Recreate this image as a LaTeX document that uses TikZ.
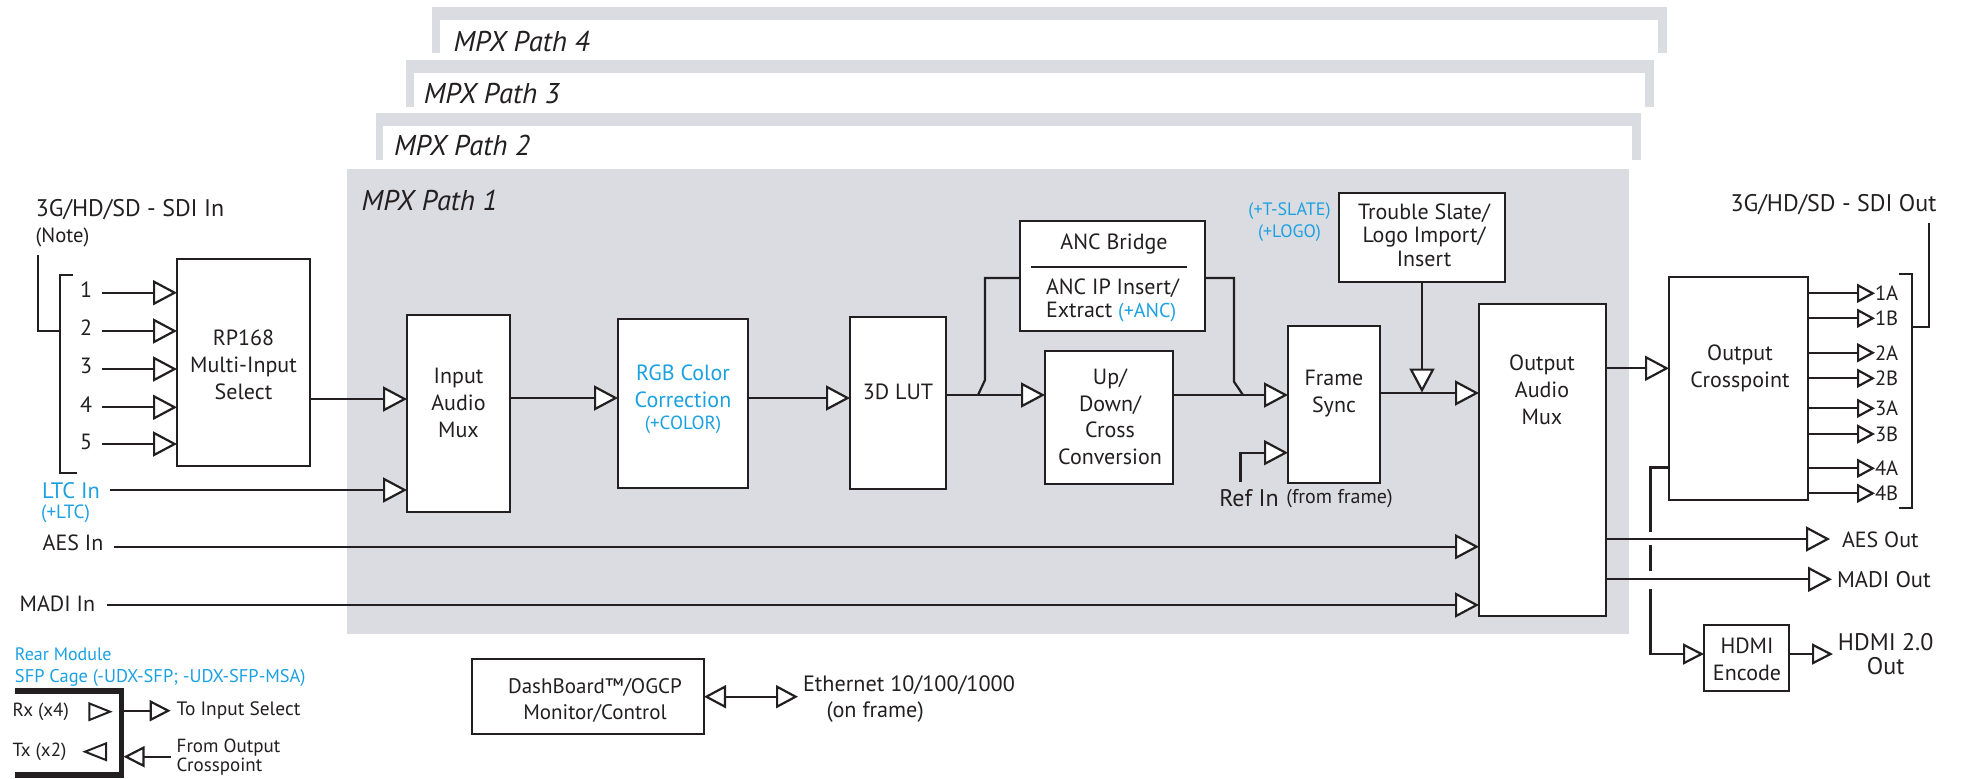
\documentclass[tikz,border=0pt]{standalone}
\usepackage{fontspec}
\setmainfont{PT Sans}
\usetikzlibrary{arrows.meta,calc}
\definecolor{panel}{RGB}{219,220,225}
\definecolor{cyanT}{RGB}{27,161,226}
\definecolor{ink}{RGB}{35,31,32}
\newcommand\mainsz{\fontsize{11}{13.4}\selectfont}
\newcommand\smallsz{\fontsize{9}{11}\selectfont}
\newcommand\mpxsz{\fontsize{14.3}{16}\selectfont\itshape}
\newcommand\blk[5]{\node[blk, minimum width={(#4-#2)*0.5pt}, minimum height={(#5-#3)*0.5pt}] (#1) at ({(#2+#4)/2},{(#3+#5)/2}) {};}
\begin{document}
\begin{tikzpicture}[x=0.5pt,y=-0.5pt,
  ln/.style={draw=ink, line width=1.1pt},
  blk/.style={draw=ink, fill=white, line width=1.2pt, inner sep=0pt, outer sep=0pt},
  txt/.style={inner sep=0pt, outer sep=0pt, font=\mainsz, text=ink, align=center},
  stxt/.style={txt, font=\smallsz},
  blue/.style={text=cyanT},
  arr/.style={ln, -{Triangle[fill=white, length=12pt, width=12.5pt]}},
  marr/.style={ln, -{Triangle[fill=white, length=10.5pt, width=10.5pt]}},
  sarr/.style={ln, -{Triangle[fill=white, length=9pt, width=9.5pt]}},
  brk/.style={draw=ink, line width=0.9pt}]
\useasboundingbox (0,0) rectangle (1961,778);

% ---------- MPX path frames ----------
\fill[panel] (432,7) rectangle (1667,53);
\fill[white] (440,19.5) rectangle (1658,53.5);
\fill[panel] (406,60) rectangle (1654,107);
\fill[white] (414,73) rectangle (1645,107.5);
\fill[panel] (376,113) rectangle (1641,160);
\fill[white] (383,126) rectangle (1632,160.5);
\fill[panel] (347,169) rectangle (1629,634);
\node[txt, font=\mpxsz] (p4) at (521.5,41.7) {MPX Path 4};
\node[txt, font=\mpxsz] (p3) at (491.8,93.3) {MPX Path 3};
\node[txt, font=\mpxsz] (p2) at (462,145.7) {MPX Path 2};
\node[txt, font=\mpxsz] (p1) at (429.6,200) {MPX Path 1};

% ---------- boxes ----------
\blk{rp}{177}{259}{310}{466}
\node[txt] (rpl) at (243.5,364.5) {RP168\\Multi-Input\\Select};
\blk{iam}{407}{315}{510}{512}
\node[txt] (iaml) at (458.5,403) {Input\\Audio\\Mux};
\blk{rgb}{618}{319}{748}{488}
\node[txt, blue] (rgbl) at (683,386.3) {RGB Color\\Correction};
\node[stxt, blue, font=\fontsize{9.5}{11}\selectfont] (rgbo) at (683,425) {(+COLOR)};
\blk{lut}{850}{317}{946}{489}
\node[txt] (lutl) at (898,391.7) {3D LUT};
\blk{anc}{1020}{221}{1205}{331}
\node[txt] (ancb) at (1114,244) {ANC Bridge};
\draw[ink, line width=0.8pt] (1031,267) -- (1187,267);
\node[txt, align=left, anchor=west, font=\fontsize{11}{11.2}\selectfont] (anci) at (1046,300.5) {ANC IP Insert/\\Extract {\color{cyanT}\fontsize{10}{11}\selectfont(+ANC)}};
\blk{udc}{1045}{351}{1173}{484}
\node[txt] (udcl) at (1110,416.7) {Up/\\Down/\\Cross\\Conversion};
\blk{fs}{1288}{326}{1380}{483}
\node[txt] (fsl) at (1334,393.3) {Frame\\Sync};
\blk{ts}{1339}{193}{1505}{282}
\node[txt, font=\fontsize{11}{11.7}\selectfont] (tsl) at (1424,235) {Trouble Slate/\\Logo Import/\\Insert};
\node[stxt, blue, font=\fontsize{9}{11}\selectfont] (tsopt) at (1289.5,221.7) {(+T-SLATE)\\(+LOGO)};
\blk{oam}{1479}{304}{1606}{616}
\node[txt] (oaml) at (1542,390) {Output\\Audio\\Mux};
\blk{oc}{1669}{277}{1808}{500}
\node[txt] (ocl) at (1740,368.3) {Output\\Crosspoint};
\blk{hdmi}{1704}{625}{1789}{691}
\node[txt] (hdmil) at (1747,659.3) {HDMI\\Encode};
\blk{dash}{472}{659}{704}{734}
\node[txt, font=\fontsize{10.5}{12.8}\selectfont] (dashl) at (595,700.5) {DashBoard™/OGCP\\Monitor/Control};

% ---------- SDI inputs ----------
\node[txt, font=\fontsize{12}{13}\selectfont] (sdiin) at (130,210) {3G/HD/SD - SDI In};
\node[stxt, font=\fontsize{10.3}{11}\selectfont] (note) at (62.5,237) {(Note)};
\draw[brk] (38,255) -- (38,331) -- (60,331);
\draw[brk] (73,275) -- (60,275) -- (60,473) -- (77,473);
\foreach \k/\ty/\ly in {1/290/292.7, 2/328/331, 3/366/369, 4/404.3/407.3, 5/442/444} {
  \node[txt] (n\k) at (86,\ty) {\k};
  \coordinate (s\k) at (102,\ly);
  \draw[arr] (s\k) -- (s\k -| rp.west);
}

% ---------- LTC / AES / MADI ----------
\node[txt, blue, font=\fontsize{11.2}{13}\selectfont] (ltc) at (71,491) {LTC In};
\node[stxt, blue, font=\fontsize{9.6}{11}\selectfont] (ltcp) at (65.5,513.5) {(+LTC)};
\coordinate (ltcs) at (110,490);
\draw[arr] (ltcs) -- (ltcs -| iam.west);
\node[txt] (aesin) at (73,542.3) {AES In};
\coordinate (aess) at (114,546.7);
\draw[arr] (aess) -- (aess -| oam.west);
\node[txt] (madiin) at (57.4,604) {MADI In};
\coordinate (madis) at (107,605);
\draw[arr] (madis) -- (madis -| oam.west);

% ---------- main chain ----------
\draw[arr] (rp.east |- 0,399) -- (iam.west |- 0,399);
\draw[arr] (iam.east |- 0,398) -- (rgb.west |- 0,398);
\draw[arr] (rgb.east |- 0,398) -- (lut.west |- 0,398);
\draw[arr] (lut.east |- 0,395) -- (udc.west |- 0,395);
\coordinate (j1) at (978,395);
\draw[ln] (j1) -- (985,380) -- (985,278) -- (anc.west |- 0,278);
\draw[ln] (anc.east |- 0,278) -- (1234,278) -- (1234,381.7) -- (1243,395);
\draw[arr] (udc.east |- 0,395) -- (fs.west |- 0,395);
\node[txt, font=\fontsize{12}{13}\selectfont] (refin) at (1249,498.3) {Ref In};
\node[stxt, font=\fontsize{10}{11}\selectfont] (fromfr) at (1339.5,498.3) {(from frame)};
\coordinate (refs) at (1240.4,481.7);
\draw[arr] (refs) |- (fs.west |- 0,452.7);
\draw[arr] (fs.east |- 0,393) -- (oam.west |- 0,393);
\draw[arr] (ts.south) -- (ts.south |- 0,392.5);
\draw[arr] (oam.east |- 0,368.3) -- (oc.west |- 0,368.3);

% ---------- SDI outputs ----------
\node[txt, font=\fontsize{12}{13}\selectfont] (sdiout) at (1833.5,205) {3G/HD/SD - SDI Out};
\foreach \lab/\y in {1A/293.3, 1B/318.3, 2A/352.7, 2B/378.3, 3A/408.3, 3B/434, 4A/468.3, 4B/493.3} {
  \node[txt, anchor=west, font=\fontsize{10.3}{12}\selectfont] (o\lab) at (1875,\y) {\lab};
  \draw[sarr] (oc.east |- o\lab.west) -- (o\lab.west);
}
\draw[brk] (1899,274) -- (1912,274) -- (1912,508) -- (1899,508);
\draw[brk] (1912,327) -- (1929,327) -- (1929,223);

% ---------- audio outputs ----------
\node[txt, anchor=west, font=\fontsize{11}{12}\selectfont] (aesout) at (1842,540) {AES Out};
\draw[arr] (oam.east |- 0,539) -- ([xshift=-6pt]aesout.west |- 0,539);
\node[txt, anchor=west, font=\fontsize{11.3}{12}\selectfont] (madiout) at (1837,579.3) {MADI Out};
\draw[arr] (oam.east |- 0,579.3) -- ([xshift=-2.5pt]madiout.west);

% ---------- HDMI ----------
\coordinate (dv) at (1650.5,467.5);
\draw[ln] (oc.west |- dv) -- (dv) -- (1650.5,531.7);
\draw[ln] (1650.5,545) -- (1650.5,571);
\draw[marr] (1650.5,589.3) |- (hdmi.west |- 0,654);
\node[txt, font=\fontsize{12}{11.9}\selectfont] (hdout) at (1885.7,654.3) {HDMI 2.0\\Out};
\draw[marr] (hdmi.east |- 0,654) -- (1833,654);

% ---------- rear module ----------
\node[stxt, blue, anchor=west, font=\fontsize{9}{11}\selectfont] (rear1) at (15,654.3) {Rear Module};
\node[stxt, blue, anchor=west, font=\fontsize{9.2}{11}\selectfont] (rear2) at (15,678.3) {SFP Cage (-UDX-SFP; -UDX-SFP-MSA)};
\draw[ink, line width=2.6pt] (15,691) -- (121.7,691) -- (121.7,775) -- (15,775);
\node[stxt, anchor=west, font=\fontsize{9.5}{11}\selectfont] (rx) at (12.7,711.7) {Rx (x4)};
\node[stxt, anchor=west, font=\fontsize{9.5}{11}\selectfont] (tx) at (12.7,751.7) {Tx (x2)};
\draw[ink, line width=1pt, fill=white, line join=miter] (89.3,703.4) -- (110,711.7) -- (89.3,720) -- cycle;
\draw[ink, line width=1pt, fill=white, line join=miter] (106,743.4) -- (85,751.7) -- (106,760) -- cycle;
\node[stxt, anchor=west, font=\fontsize{9.7}{11}\selectfont] (toin) at (176.7,711) {To Input Select};
\coordinate (sfpr) at (121.7,710.7);
\draw[marr] (sfpr) -- ([xshift=-3pt]toin.west |- sfpr);
\node[stxt, anchor=west, align=left, font=\fontsize{9.5}{9.4}\selectfont] (fromoc) at (176.7,757.5) {From Output\\Crosspoint};
\coordinate (sfpt) at (123.5,756.7);
\draw[marr] ([xshift=-3pt]fromoc.west |- sfpt) -- (sfpt);

% ---------- DashBoard ----------
\node[txt, anchor=west, font=\fontsize{11.1}{12}\selectfont] (eth) at (803,685) {Ethernet 10/100/1000};
\node[txt, anchor=west, font=\fontsize{11.1}{12}\selectfont] (ethf) at (826.5,711.7) {(on frame)};
\draw[ln, {Triangle[fill=white, length=11pt, width=11.5pt]}-{Triangle[fill=white, length=11pt, width=11.5pt]}] (dash.east |- 0,696.7) -- ([xshift=-2.5pt]eth.west |- 0,696.7);
\end{tikzpicture}
\end{document}
